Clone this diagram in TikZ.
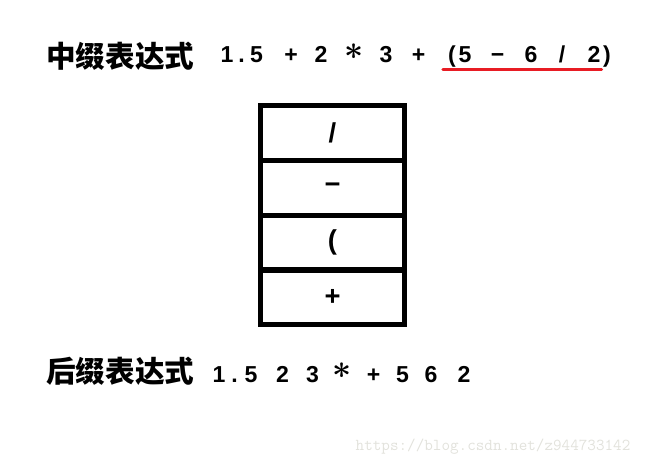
\documentclass[tikz,border=0pt]{standalone}
\usepackage{amsmath}
\usepackage{fontspec}
\setmainfont{Liberation Sans}
\newfontfamily\cjk{Noto Sans CJK SC}
\usetikzlibrary{positioning}
\definecolor{markred}{RGB}{232,28,36}
\definecolor{wmgray}{RGB}{226,226,220}
\tikzset{
    hanzi/.style={anchor=base west, inner sep=0pt, font=\cjk\bfseries\fontsize{22.2}{24}\selectfont},
    tok/.style={anchor=base, inner sep=0pt, font=\bfseries\fontsize{17.3}{19}\selectfont},
    star/.style={inner sep=0pt, font=\fontsize{23}{25}\selectfont},
    cell/.style={draw, line width=3.9pt, outer sep=0pt, minimum width=108pt, minimum height=41.1pt,
                 font=\bfseries\fontsize{20.5}{22}\selectfont},
}
\begin{document}
\begin{tikzpicture}[x=0.75pt, y=-0.75pt]
    \useasboundingbox (0,0) rectangle (666,460);

    %infix line
    \node[hanzi] (infix) at (46,68) {中缀表达式};
    \foreach \x/\t [count=\i] in {227/1, 241.5/., 256.5/5, 291/+, 321/2, 386/3, 418.5/+,
                                  452/(, 465/5, 497.5/−, 531/6, 562/{/}, 594/2, 607/)} {
        \node[tok] (in\i) at (\x,62.5) {\t};
    }
    \node[star] (instar) at (354.5,52) {$\boldsymbol{\ast}$};
    \coordinate (ulA) at (443,69.7);
    \coordinate (ulB) at (601.5,69.7);
    \draw[markred, line width=2.6pt, line cap=round] (ulA) -- (ulB);

    %stack
    \node[cell] (s1) at (332.5,133) {/};
    \node[cell, below=0pt of s1] (s2) {−};
    \node[cell, below=0pt of s2] (s3) {(};
    \node[cell, below=0pt of s3] (s4) {+};

    %postfix line
    \node[hanzi] (postfix) at (46,382) {后缀表达式};
    \foreach \x/\t [count=\i] in {219/1, 234.5/., 251/5, 282.5/2, 312.5/3,
                                  373.5/+, 402.5/5, 431/6, 464/2} {
        \node[tok] (out\i) at (\x,382) {\t};
    }
    \node[star] (outstar) at (342.5,371) {$\boldsymbol{\ast}$};

    %watermark
    \node[inner sep=0pt, text=wmgray, font=\ttfamily\fontsize{12.5}{14}\selectfont] (wm) at (493,447)
        {https://blog.csdn.net/z944733142};

\end{tikzpicture}
\end{document}
